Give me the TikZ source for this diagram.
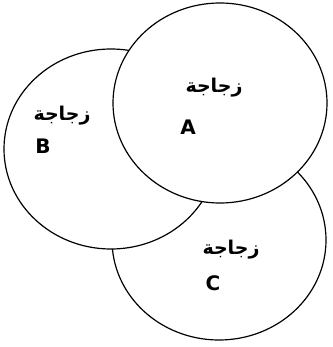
\documentclass[tikz,border=0pt]{standalone}
\usepackage{fontspec}
\usepackage{tikz}
\usetikzlibrary{shapes.geometric}
\setmainfont{DejaVu Sans}
\newfontfamily\arabicfont[Script=Arabic]{DejaVu Sans}
\TeXXeTstate=1
\newcommand{\bottleword}{{\arabicfont\bfseries\beginR زجاجة\endR}}

\begin{document}
\begin{tikzpicture}[x=1pt,y=-1pt,
          bottle/.style={draw,ellipse,line width=1.2pt,fill=white,
                         minimum width=214pt,minimum height=200pt},
          word/.style={inner sep=0pt,font=\fontsize{19}{20}\selectfont},
          letter/.style={inner sep=0pt,font=\fontsize{20}{21}\selectfont\bfseries}]
        \useasboundingbox (0,0) rectangle (332,347);
        % back to front: C, then B, then A
        \node[bottle] (bottleC) at (219,240) {};
        \node[bottle] (bottleB) at (111,149) {};
        \node[bottle] (bottleA) at (220,103) {};
        \node[word] (wordA) at (214,88) {\bottleword};
        \node[letter] (letA) at (188,127) {A};
        \node[word] (wordB) at (62,116) {\bottleword};
        \node[letter] (letB) at (43,146) {B};
        \node[word] (wordC) at (231,250) {\bottleword};
        \node[letter] (letC) at (213,283) {C};
      \end{tikzpicture}
\end{document}
